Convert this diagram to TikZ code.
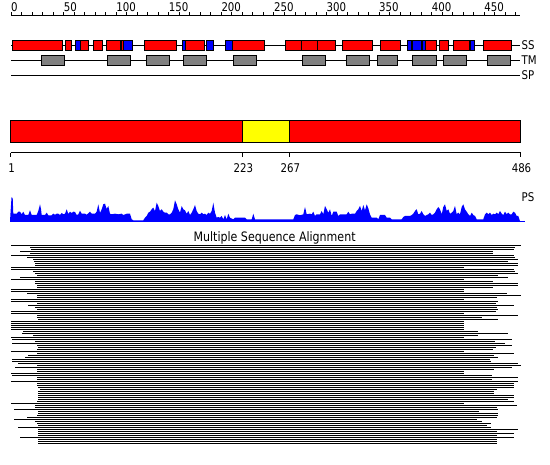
\documentclass[tikz,border=0pt]{standalone}
\usepackage{fontspec}
\setmainfont{DejaVu Sans}[FakeStretch=0.85]
\usepackage{tikz}
\usetikzlibrary{positioning}
\definecolor{ssred}{RGB}{255,0,0}
\definecolor{ssblue}{RGB}{0,0,255}
\definecolor{tmgray}{RGB}{128,128,128}
\definecolor{domyellow}{RGB}{255,255,0}
\newcommand{\trkfont}{\fontsize{12}{12}\selectfont}
\newcommand{\ttlfont}{\fontsize{13}{13}\selectfont}
\tikzset{
  trk/line/.style={line width=0.9pt},
  trk/label/.style={font=\trkfont, inner sep=1pt, anchor=west},
  ss/helix/.style={draw, fill=ssred, line width=0.8pt},
  ss/strand/.style={draw, fill=ssblue, line width=0.8pt},
  tm/seg/.style={draw, fill=tmgray, line width=0.8pt},
  dom/block/.style={draw, line width=0.8pt},
  ax/line/.style={line width=0.8pt},
  ax/num/.style={font=\trkfont, inner sep=0pt},
  ps/fill/.style={fill=ssblue},
  msa/row/.style={line width=1.1pt}
}

\begin{document}
\begin{tikzpicture}[x=1pt, y=-1pt]
  \useasboundingbox (0,0) rectangle (550,465);

  % residue ruler
  \draw[ax/line] (11,15.5) -- (520,15.5);
  \foreach \r in {0,10,...,480}
    \draw[ax/line] (11+\r*1.0515,15.5) -- ++(0,-3.5);
  \foreach \r in {0,50,...,450}
    \node[ax/num, anchor=base west] (rul\r) at (11+\r*1.0515,11.7) {\r};

  % SS / TM / SP tracks
  \draw[trk/line] (11,45) -- (520,45);
  \draw[trk/line] (11,60.5) -- (520,60.5);
  \draw[trk/line] (11,75.5) -- (520,75.5);
  \foreach \a/\b in {12.3/62.7, 65/71, 80/88, 93/102, 106/120, 121/123, 144/176, 185/204,
                     232/264, 285/301, 301/317, 317/335, 342/372, 380/400, 425/436,
                     439/448, 453/469, 483/511}
    \draw[ss/helix] (\a,40) rectangle (\b,50);
  \foreach \a/\b in {75/80, 123/132, 182/185, 206/213, 225/232, 407/411, 412/421,
                     422/425, 470/474}
    \draw[ss/strand] (\a,40) rectangle (\b,50);
  \foreach \a/\b in {41/64, 107/130, 146/169, 183/206, 233/256, 302/325, 346/369,
                     377/397, 412/436, 443/466, 487/510}
    \draw[tm/seg] (\a,55) rectangle (\b,65.5);
  \node[trk/label] (ss) at (520.5,45) {SS};
  \node[trk/label] (tm) at (520.5,60.5) {TM};
  \node[trk/label] (sp) at (520.5,75.5) {SP};

  % domain bar
  \draw[dom/block, fill=ssred] (10.5,120.5) rectangle (242.4,142.3);
  \draw[dom/block, fill=domyellow] (242.4,120.5) rectangle (289.4,142.3);
  \draw[dom/block, fill=ssred] (289.4,120.5) rectangle (520.5,142.3);
  \draw[ax/line] (10.5,152.8) -- (520.5,152.8);
  \foreach \x/\t in {10.5/1, 242.4/223, 289.4/267, 520.5/486} {
    \draw[ax/line] (\x,152.8) -- ++(0,4.6);
    \node[ax/num, anchor=base] (dom\t) at (\x+1,172.5) {\t};
  }

  % PS profile
  \begin{scope}[shift={(0,221)}, yscale=-1]
    \fill[ps/fill] plot coordinates {
      (10,0) (11.5,23.5) (12.7,23) (13.3,7.3) (16.7,7.3) (18.3,9.3) (20,9.3) (21.7,6.7)
      (23.3,9.3) (25,6) (28.3,6) (30,10.7) (31.7,6) (36.7,6) (38.3,10) (40,16.7) (41,12)
      (41.7,6) (45,6) (46.7,8.3) (48.3,5.7) (51.7,5.7) (53.3,7.3) (55,6.3) (56.7,7.3)
      (58.3,7.3) (60,6) (61.7,8) (63.3,6.7) (65,7.3) (66.7,11.7) (68.3,7) (70,9.3) (71.7,8)
      (73.3,9.3) (75,9) (76.7,6) (78.3,6.7) (80,10.3) (81.7,7.3) (85,7.3) (86.7,6.3)
      (88.3,7.7) (90,9.3) (91.7,7.3) (95,7.3) (96.7,9.3) (98.3,16.7) (100,8) (101.7,11.7)
      (103.3,16.7) (105,17.3) (106.7,12) (108.3,15) (110,7.3) (111.7,6.7) (115,7.3)
      (118.3,6.7) (121.7,7.3) (123.3,6) (126.7,7.3) (130,7.3) (131.7,1.7) (133.3,0.7)
      (143.3,0.7) (145,3.3) (146.7,5) (148.3,8.3) (150,9.3) (151.7,11.7) (153.3,13.3)
      (155,10) (156.7,18.3) (158.3,15) (160,10) (161.7,11.7) (163.3,9.3) (165,8.3)
      (166.7,8.3) (168.3,6.7) (170,6.7) (171.7,8.3) (173.3,11.7) (175,20.7) (176.7,16.7)
      (178.3,11.7) (180,8.3) (181.7,15) (183.3,11.7) (185,10.7) (186.7,7.3) (188.3,10)
      (190,6) (191.7,8.3) (193.3,11.7) (195,16) (196.7,10) (198.3,7.3) (200,6.7)
      (201.7,8.3) (203.3,6.7) (205,7.3) (206.7,6) (208.3,8.3) (210,7.3) (211.7,10)
      (213.3,18.3) (215,8.3) (216.7,3.3) (218.3,4) (220,3.3) (221.7,5) (223.3,1.7) (225,6)
      (226.7,1.7) (228.3,7.3) (230,3.3) (233.3,1.7) (235,3.3) (245,3.3) (246.7,1.7)
      (251.7,1.7) (253.3,7.3) (255,1.7) (270,1.7) (293.3,1.7) (295,6) (296.7,6.7)
      (300,5.7) (303.3,6.7) (305,14) (306.7,6.7) (310,7.3) (311.7,6.7) (313.3,9.3) (315,5)
      (316.7,6.7) (320,6.7) (321.7,10) (323.3,6.7) (325,15) (326.7,11.7) (328.3,8.3)
      (330,11.7) (331.7,5) (333.3,9.3) (336.7,9.3) (338.3,5) (340,6.7) (346.7,6.7)
      (348.3,9.3) (350,6.7) (351.7,7.3) (355,7.3) (356.7,10) (358.3,11.7) (360,15)
      (361.7,10) (363.3,16) (365,10.7) (366.7,16.7) (368.3,12.7) (370,6.7) (371.7,3.3)
      (376.7,3.3) (378.3,1.7) (380,6) (385,6) (386.7,3.3) (390,3.3) (391.7,1.7)
      (401.7,1.7) (403.3,4) (405,5) (410,5) (411.7,6) (413.3,7.3) (415,10) (416.7,11.7)
      (418.3,6.7) (420,7.3) (421.7,10) (423.3,6.7) (425,5) (426.7,6) (428.3,6.7) (430,8.3)
      (431.7,6) (433.3,6.7) (435,8.3) (436.7,11.7) (438.3,14) (440,11.7) (441.7,6.7)
      (443.3,14) (445,16.7) (446.7,10) (448.3,11.7) (450,7.3) (451.7,8.3) (453.3,10)
      (455,15) (456.7,6.7) (458.3,8.3) (460,6.7) (461.7,14) (463.3,16.7) (465,11.7)
      (466.7,9.3) (468.3,6.7) (470,5) (471.7,8.3) (473.3,6) (475,5) (476.7,1.7)
      (483.3,1.7) (485,6.7) (486.7,8.3) (488.3,6.7) (490,8.3) (491.7,6) (493.3,7.3)
      (495,6.7) (496.7,8.3) (498.3,6.7) (500,10) (501.7,7.3) (503.3,6) (505,9.3)
      (506.7,6.7) (508.3,8.3) (510,6.7) (511.7,6.7) (513.3,9.3) (515,8.3) (516.7,5)
      (518.3,5) (520,0)} -- cycle;
  \end{scope}
  \draw[ssblue, line width=1pt] (10,221.5) -- (525,221.5);
  \node[trk/label] (ps) at (520.5,197.5) {PS};

  % alignment rows
  \node[font=\ttlfont, inner sep=0pt] (msa) at (274.6,237.5) {Multiple Sequence Alignment};
  \foreach \s/\e [count=\i from 0] in {
      11/521, 30/515, 31/514, 20/493, 30/493, 11/514, 27/515, 33/518, 34/508, 35/518,
      35/518, 11/464, 11/514, 33/515, 35/518, 37/498, 20/508, 11/464, 35/493, 35/518,
      37/518, 37/493, 11/464, 11/464, 27/507, 37/521, 37/497, 11/464, 11/498, 37/496,
      28/514, 35/497, 37/498, 11/496, 11/464, 37/518, 37/482, 38/498, 11/464, 11/464,
      11/464, 11/464, 11/464, 23/478, 22/508, 33/478, 11/464, 12/512, 35/495, 12/505,
      37/512, 38/496, 37/493, 11/464, 37/514, 28/494, 25/498, 12/490, 12/491, 18/518,
      37/521, 15/512, 37/494, 37/464, 11/464, 12/492, 37/518, 37/492, 11/518, 37/514,
      37/514, 38/514, 40/497, 38/494, 38/494, 38/514, 38/514, 38/508, 37/514, 11/464,
      35/517, 35/497, 14/498, 38/479, 38/498, 37/498, 27/497, 14/477, 35/482, 37/491,
      38/487, 18/491, 38/518, 38/497, 38/514, 38/497, 20/514, 38/497, 38/497, 38/497}
    \draw[msa/row] (\s,245.5+2*\i) -- (\e,245.5+2*\i);
\end{tikzpicture}
\end{document}
